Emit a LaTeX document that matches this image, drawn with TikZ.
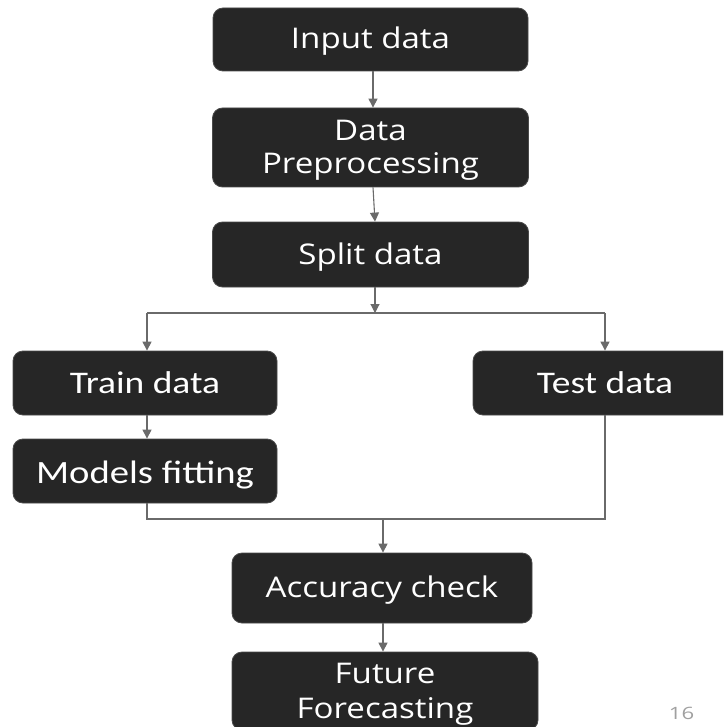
\documentclass[tikz,border=0pt]{standalone}
\usepackage{fontspec}
\setmainfont[FakeStretch=1.16]{Open Sans}
\newfontfamily\caf[FakeStretch=1.19]{Carlito}
\newfontfamily\pgf[FakeStretch=1.3]{Open Sans}
\usetikzlibrary{arrows.meta,calc}
\definecolor{boxfill}{HTML}{262626}
\definecolor{boxline}{HTML}{4A4A4A}
\definecolor{linegray}{HTML}{6A6A6A}
\definecolor{pagegray}{HTML}{A0A0A0}
\begin{document}
\begin{tikzpicture}[x=1pt,y=-1pt,
  box/.style={draw=boxline, line width=0.8pt, fill=boxfill, rounded corners=10pt,
    text=white, align=center, inner sep=0pt, text height=21.5pt, text depth=2.5pt,
    font=\fontsize{28.5}{33}\selectfont},
  twobox/.style={box, text height=54.5pt},
  cbox/.style={box, text height=22pt, text depth=2pt, font=\caf\fontsize{31.5}{34}\selectfont},
  conn/.style={draw=linegray, line width=1.1pt},
  arr/.style={conn, -{Triangle[length=9pt,width=9pt]}}]
\clip (0,0) rectangle (723,727);
\fill[white] (0,0) rectangle (723,727);

\node[box, minimum width=315pt, minimum height=63pt] (in) at (370.5,39.5) {Input data};
\node[twobox, minimum width=316pt, minimum height=79pt] (pre) at (370.5,147.5) {Data\\Preprocessing};
\node[box, minimum width=316pt, minimum height=65pt] (split) at (370.5,254.5) {Split data};
\node[cbox, minimum width=264pt, minimum height=64pt] (train) at (145,383) {Train data};
\node[cbox, minimum width=264pt, minimum height=64pt] (test) at (605,383) {Test data};
\node[cbox, minimum width=264pt, minimum height=64pt, text height=24pt, text depth=0pt,
      font=\caf\fontsize{32.5}{34}\selectfont] (models) at (145,471) {Models fitting};
\node[box, minimum width=300pt, minimum height=70pt] (acc) at (382,588) {Accuracy check};
\node[twobox, minimum width=306pt, minimum height=78pt, text height=56.5pt,
      font=\fontsize{28.5}{35}\selectfont] (fut) at (385,691) {Future\\Forecasting};
\node[text=pagegray, inner sep=0pt, font=\pgf\fontsize{17}{18}\selectfont] (pg) at (681.5,713.5) {16};

\coordinate (j1) at (375,313);
\coordinate (jl) at (147,313);
\coordinate (jr) at (605,313);
\coordinate (bl) at (147,519);
\coordinate (br) at (605,519);
\coordinate (j2) at (383,519);

\draw[arr] (in.south -| 373,0) -- (pre.north -| 373,0);
\draw[arr] (pre.south -| 373,0) -- (split.north -| 375,0);
\draw[arr] (split.south -| 375,0) -- (j1);
\draw[conn] (jl) -- (jr);
\draw[arr] (jl) -- (train.north -| jl);
\draw[arr] (jr) -- (test.north);
\draw[arr] (train.south -| 147,0) -- (models.north -| 147,0);
\draw[conn] (models.south -| bl) -- (bl) -- (br) -- (test.south);
\draw[arr] (j2) -- (acc.north -| j2);
\draw[arr] (acc.south -| j2) -- (fut.north -| j2);
\end{tikzpicture}
\end{document}
